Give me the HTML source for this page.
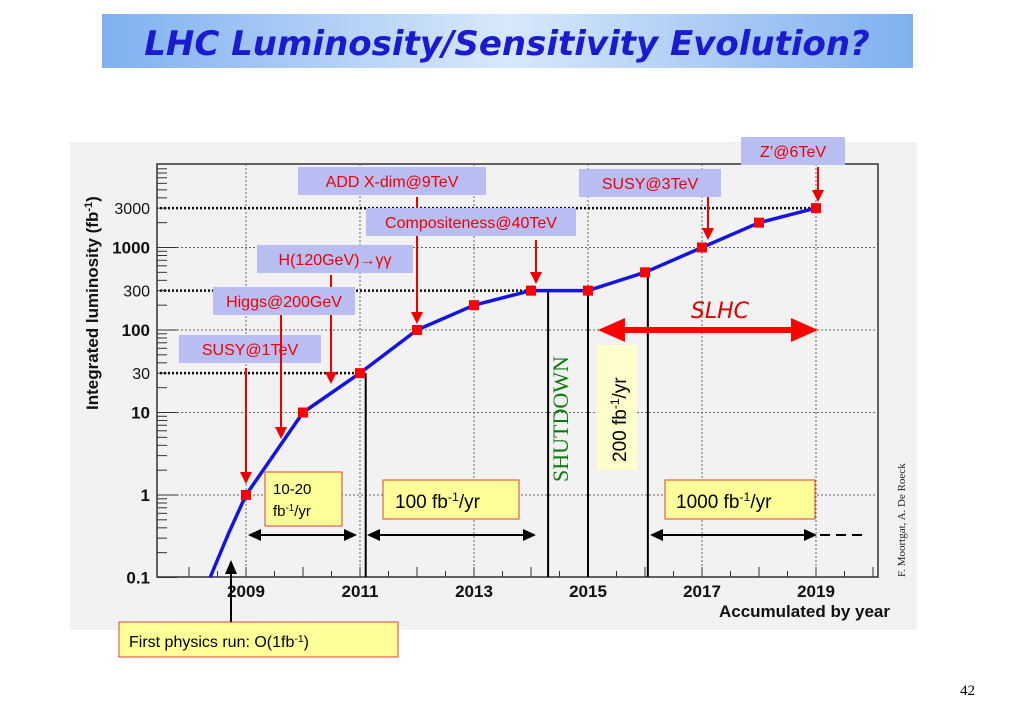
<!DOCTYPE html>
<html><head><meta charset="utf-8"><style>
body{margin:0;background:#fff;width:1023px;height:708px;overflow:hidden;font-family:"Liberation Sans",sans-serif}
</style></head><body>
<svg width="1023" height="708" viewBox="0 0 1023 708">
<defs>
<linearGradient id="tg" x1="0" x2="1"><stop offset="0" stop-color="#7fb0f0"/><stop offset="0.5" stop-color="#d8e8fb"/><stop offset="1" stop-color="#7fb0f0"/></linearGradient>
<marker id="ra" markerWidth="6" markerHeight="6" refX="4" refY="3" orient="auto" markerUnits="strokeWidth"><path d="M0,0L6,3L0,6z" fill="#e00"/></marker>
</defs>
<rect x="102" y="14" width="811" height="54" fill="url(#tg)"/>
<text x="507" y="55" text-anchor="middle" font-size="34" font-weight="bold" font-style="italic" fill="#1a1ad0" font-family="'Comic Sans MS','DejaVu Sans',sans-serif">LHC Luminosity/Sensitivity Evolution?</text>
<rect x="70" y="142" width="847" height="488" fill="#f2f2f2"/>
<g id="chart"></g>
<text x="960" y="695" font-size="15" font-family="'Liberation Serif',serif">42</text>
</svg>
<script>
const years=[2009,2010,2011,2012,2013,2014,2015,2016,2017,2018,2019];
const lumi=[1,10,30,100,200,300,300,500,1000,2000,3000];
const yTicks=[0.1,1,10,100,1000];
const yTickLabels=['0.1','1','10','100','1000'];
const xTicks=[2009,2011,2013,2015,2017,2019];
const refLines=[30,300,3000];
const NS='http://www.w3.org/2000/svg';
const g=document.getElementById('chart');
const X=y=>246+(y-2009)*57;
const Y=v=>495-Math.log10(v)*82.5;
function el(t,a,txt){const e=document.createElementNS(NS,t);for(const k in a)e.setAttribute(k,a[k]);if(txt!==undefined)e.textContent=txt;g.appendChild(e);return e;}
let f=el('rect',{x:157,y:164,width:721,height:413,fill:'none',stroke:'#333','stroke-width':1.5});


yTicks.slice(1).forEach(v=>{let l=el('line',{x1:157,x2:878,y1:Y(v),y2:Y(v),stroke:'#666','stroke-dasharray':'2,2','stroke-width':1});});
xTicks.forEach(v=>{let l=el('line',{x1:X(v),x2:X(v),y1:164,y2:577,stroke:'#666','stroke-dasharray':'2,2','stroke-width':1});});
for(let d=-1;d<4;d++)for(let m=1;m<10;m++){const v=m*Math.pow(10,d);if(Y(v)<164)continue;const L=m==1?20:10;let t=el('line',{x1:157,x2:157+L,y1:Y(v),y2:Y(v),stroke:'#333','stroke-width':1});}
for(let yr=2008;yr<=2020;yr+=0.5){const L=(yr%1==0)?10:6;let t=el('line',{x1:X(yr),x2:X(yr),y1:577,y2:577-L,stroke:'#333'});}
yTicks.forEach((v,i)=>{let t=el('text',{x:150,y:Y(v)+6,'text-anchor':'end','font-size':17,'font-weight':'bold',fill:'#111'},yTickLabels[i]);});
refLines.forEach(v=>{let t=el('text',{x:150,y:Y(v)+6,'text-anchor':'end','font-size':16,'font-weight':500,fill:'#111'},String(v));});
const refEnd={30:2011,300:2014,3000:2019};
refLines.forEach(v=>{let l=el('line',{x1:160,x2:X(refEnd[v]),y1:Y(v),y2:Y(v),stroke:'#111','stroke-width':2.5,'stroke-dasharray':'2,2'});});
xTicks.forEach(v=>{let t=el('text',{x:X(v),y:597,'text-anchor':'middle','font-size':17,'font-weight':'bold',fill:'#111'},String(v));});
let xt=el('text',{x:890,y:617,'text-anchor':'end','font-size':17,'font-weight':'bold',fill:'#111'},'Accumulated by year');
let yt=el('text',{x:0,y:0,transform:'translate(98,410) rotate(-90)','font-size':17,'font-weight':'bold',fill:'#111'},'Integrated luminosity (fb');
let ts=el('tspan',{'baseline-shift':'super','font-size':11},'-1');yt.appendChild(ts);yt.appendChild(document.createTextNode(')'));
[[2011.1,30],[2014.3,300],[2015,300],[2016.05,500]].forEach(([x,v])=>{let l=el('line',{x1:X(x),x2:X(x),y1:Y(v),y2:577,stroke:'#000','stroke-width':2});});
let pts=[[2008.37,0.1],[2008.7,0.35]].concat(years.map((y,i)=>[y,lumi[i]]));
let d=pts.map((p,i)=>(i?'L':'M')+X(p[0]).toFixed(1)+','+Y(p[1]).toFixed(1)).join('');
let c=el('path',{d:d,fill:'none',stroke:'#1515e0','stroke-width':3.5,'stroke-linejoin':'round'});
years.forEach((y,i)=>{let r=el('rect',{x:X(y)-5,y:Y(lumi[i])-5,width:10,height:10,fill:'#f00'});});
function lab(name,txt,bx,by,bw,ax,ay1,ay2){let r=el('rect',{x:bx,y:by,width:bw,height:28,fill:'#b8bdf2'});
let t=el('text',{x:bx+bw/2,y:by+20,'text-anchor':'middle','font-size':16,fill:'#e00'},txt);
let a=el('line',{x1:ax,x2:ax,y1:ay1,y2:ay2,stroke:'#e00','stroke-width':2,'marker-end':'url(#ra)'});}
lab('susy-1tev','SUSY@1TeV',179,335,142,246,368,480);
lab('add-xdim','ADD X-dim@9TeV',298,167,188,417,197,320);
lab('compositeness','Compositeness@40TeV',366,208,210,536,240,280);
lab('h-gamma','H(120GeV)→γγ',257,245,156,331,275,380);
lab('higgs-200','Higgs@200GeV',213,287,142,281,315,435);
lab('susy-3tev','SUSY@3TeV',579,169,142,708,197,236);
lab('zprime','Z’@6TeV',741,137,104,818,167,198);
function yb(name,x,y,w,h,lines,fs){let r=el('rect',{x:x,y:y,width:w,height:h,fill:'#ffff99',stroke:'#e04030','stroke-width':1});
lines.forEach((L,i)=>{let t=el('text',{x:L[1],y:y+L[2],'font-size':fs,fill:'#000'});
L[0].forEach(s=>{let sp=el('tspan',s[1]?{'baseline-shift':'super','font-size':fs*0.65}:{},s[0]);t.appendChild(sp);});});}
yb('rate-10-20',265,472,77,54,[[[['10-20']],273,22],[[['fb'],['-1',1],['/yr']],273,44]],15);
yb('rate-100',383,480,136,39,[[[['100 fb'],['-1',1],['/yr']],395,28]],19);
yb('rate-1000',665,480,150,39,[[[['1000 fb'],['-1',1],['/yr']],676,28]],19);
yb('first-run',119,622,279,35,[[[['First physics run: O(1fb'],['-1',1],[')']],129,25]],16);
let r2=el('rect',{x:597,y:345,width:40,height:125,fill:'#ffffcc'});
let t2=el('text',{x:0,y:0,transform:'translate(626,462) rotate(-90)','font-size':19,fill:'#000'},'200 fb');
t2.appendChild(el('tspan',{'baseline-shift':'super','font-size':12},'-1'));t2.appendChild(el('tspan',{},'/yr'));
let sd=el('text',{x:0,y:0,transform:'translate(568,482) rotate(-90)','font-size':22,fill:'#0a7a0a','font-family':"'Liberation Serif',serif"},'SHUTDOWN');
function dbl(name,x1,x2,y){let l=el('line',{x1:x1+10,x2:x2-10,y1:y,y2:y,stroke:'#000','stroke-width':2});
el('path',{d:`M${x1},${y}L${x1+13},${y-6}L${x1+13},${y+6}z`,fill:'#000'});el('path',{d:`M${x2},${y}L${x2-13},${y-6}L${x2-13},${y+6}z`,fill:'#000'});}
dbl('span-2009-2011',248,357,535);dbl('span-2011-2014',367,536,535);dbl('span-2016-2019',650,817,535);
let dl=el('line',{x1:820,x2:862,y1:535,y2:535,stroke:'#000','stroke-width':2,'stroke-dasharray':'10,6'});
let fa=el('line',{x1:231,x2:231,y1:622,y2:572,stroke:'#000','stroke-width':2});
el('path',{d:'M231,560L225,574L237,574z',fill:'#000'});
let sl=el('text',{x:720,y:318,'text-anchor':'middle','font-size':22,fill:'#d00','font-style':'italic','font-family':"'DejaVu Sans',sans-serif"},'SLHC');
let sa=el('line',{x1:620,x2:795,y1:330,y2:330,stroke:'#f00','stroke-width':6});
el('path',{d:'M598,330L625,318L625,342z',fill:'#f00'});el('path',{d:'M818,330L791,318L791,342z',fill:'#f00'});
let cr=el('text',{x:0,y:0,transform:'translate(905,577) rotate(-90)','font-size':11,fill:'#222','font-family':"'Liberation Serif',serif"},'F. Moortgat, A. De Roeck');
</script>
</body></html>
